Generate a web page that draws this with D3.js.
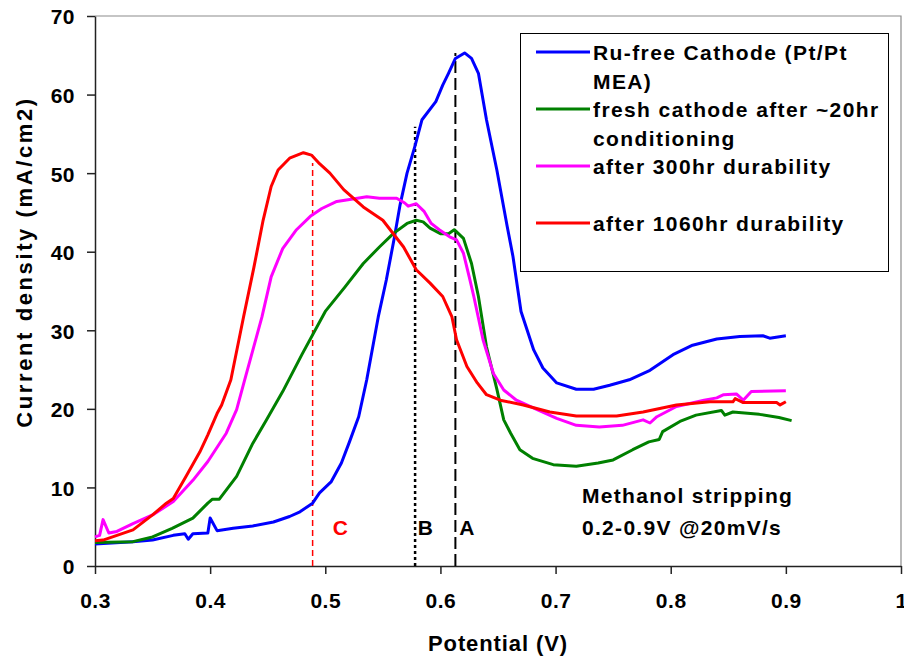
<!DOCTYPE html>
<html>
<head>
<meta charset="utf-8">
<script src="https://cdn.jsdelivr.net/npm/d3@7"></script>
<style>
  html, body { margin: 0; padding: 0; background: #fff; }
  svg { display: block; }
  text { font-family: "Liberation Sans", Arial, sans-serif; font-weight: bold; fill: #000; }
</style>
</head>
<body>
<svg id="chart" width="904" height="656"></svg>
<script>
// Methanol stripping voltammograms: potential (V) vs current density (mA/cm2)
const ruFree = [
  [0.300, 2.8], [0.333, 3.1], [0.350, 3.3], [0.368, 3.9], [0.378, 4.1], [0.381, 3.4],
  [0.385, 4.1], [0.398, 4.2], [0.400, 6.1], [0.406, 4.5], [0.420, 4.8], [0.437, 5.1],
  [0.455, 5.6], [0.469, 6.3], [0.478, 6.9], [0.489, 8.0], [0.495, 9.3], [0.505, 10.7],
  [0.514, 13.1], [0.521, 15.8], [0.529, 19.0], [0.536, 23.7], [0.546, 31.7], [0.553, 36.4],
  [0.560, 41.8], [0.565, 46.0], [0.571, 50.0], [0.578, 53.5], [0.584, 56.8], [0.596, 59.1],
  [0.602, 61.2], [0.607, 62.7], [0.613, 64.6], [0.621, 65.3], [0.627, 64.6], [0.633, 62.7],
  [0.640, 56.8], [0.649, 50.4], [0.658, 43.2], [0.663, 39.4], [0.670, 32.4], [0.681, 27.5],
  [0.689, 25.2], [0.701, 23.3], [0.718, 22.5], [0.733, 22.5], [0.747, 23.0], [0.764, 23.7],
  [0.782, 24.9], [0.802, 26.9], [0.819, 28.1], [0.840, 28.9], [0.860, 29.2], [0.880, 29.3],
  [0.886, 29.0], [0.900, 29.3]
];
const fresh20hr = [
  [0.300, 3.0], [0.333, 3.1], [0.350, 3.7], [0.367, 4.8], [0.385, 6.1], [0.398, 8.0],
  [0.402, 8.5], [0.408, 8.5], [0.423, 11.4], [0.437, 15.6], [0.449, 18.6], [0.463, 22.2],
  [0.480, 27.0], [0.500, 32.4], [0.517, 35.5], [0.533, 38.5], [0.547, 40.6], [0.559, 42.3],
  [0.571, 43.6], [0.579, 44.0], [0.585, 43.8], [0.591, 43.0], [0.600, 42.3], [0.607, 42.3],
  [0.612, 42.8], [0.620, 41.7], [0.627, 38.5], [0.633, 34.3], [0.640, 27.9], [0.649, 22.5],
  [0.655, 18.6], [0.661, 16.9], [0.669, 14.8], [0.680, 13.7], [0.698, 12.9], [0.718, 12.7],
  [0.737, 13.1], [0.750, 13.5], [0.767, 14.8], [0.781, 15.8], [0.790, 16.1], [0.793, 17.1],
  [0.808, 18.4], [0.822, 19.2], [0.844, 19.8], [0.847, 19.2], [0.854, 19.6], [0.877, 19.3],
  [0.894, 18.9], [0.905, 18.5]
];
const after300hr = [
  [0.300, 3.7], [0.304, 3.9], [0.307, 5.9], [0.312, 4.2], [0.319, 4.4], [0.333, 5.4],
  [0.350, 6.5], [0.368, 8.2], [0.385, 10.9], [0.398, 13.3], [0.414, 16.9], [0.423, 19.9],
  [0.430, 23.7], [0.445, 31.7], [0.453, 36.8], [0.463, 40.4], [0.475, 42.8], [0.487, 44.5],
  [0.497, 45.5], [0.510, 46.4], [0.524, 46.7], [0.536, 47.0], [0.547, 46.8], [0.562, 46.8],
  [0.569, 46.2], [0.572, 45.8], [0.579, 46.1], [0.586, 45.1], [0.592, 43.6], [0.599, 42.8],
  [0.608, 41.9], [0.614, 41.5], [0.620, 39.8], [0.625, 36.8], [0.629, 34.3], [0.637, 28.8],
  [0.646, 24.5], [0.655, 22.4], [0.666, 21.1], [0.684, 19.9], [0.701, 18.8], [0.718, 17.9],
  [0.738, 17.7], [0.758, 17.9], [0.776, 18.6], [0.782, 18.2], [0.788, 19.0], [0.805, 20.3],
  [0.829, 21.1], [0.840, 21.4], [0.846, 21.8], [0.857, 21.9], [0.863, 21.1], [0.870, 22.2],
  [0.900, 22.3]
];
const after1060hr = [
  [0.300, 3.2], [0.307, 3.3], [0.333, 4.6], [0.350, 6.5], [0.362, 8.0], [0.368, 8.6],
  [0.379, 11.4], [0.391, 14.5], [0.398, 16.7], [0.406, 19.4], [0.410, 20.5], [0.418, 23.7],
  [0.429, 31.7], [0.438, 38.0], [0.446, 44.0], [0.453, 48.3], [0.459, 50.4], [0.469, 51.9],
  [0.481, 52.6], [0.488, 52.3], [0.495, 51.2], [0.504, 50.0], [0.516, 47.9], [0.533, 45.7],
  [0.550, 44.0], [0.568, 40.6], [0.579, 37.7], [0.591, 36.0], [0.602, 34.3], [0.610, 31.7],
  [0.614, 28.8], [0.623, 25.4], [0.632, 23.3], [0.640, 21.8], [0.652, 21.1], [0.672, 20.5],
  [0.695, 19.6], [0.718, 19.1], [0.753, 19.1], [0.776, 19.6], [0.805, 20.5], [0.834, 20.9],
  [0.854, 20.9], [0.856, 21.3], [0.863, 20.8], [0.892, 20.8], [0.895, 20.5], [0.900, 20.9]
];

const seriesNames = [
  ["Ru-free Cathode (Pt/Pt", "MEA)"],
  ["fresh cathode after ~20hr", "conditioning"],
  ["after 300hr durability"],
  ["after 1060hr durability"]
];
const seriesColors = ["#0000ff", "#008000", "#ff00ff", "#ff0000"];

const xTicks = [0.3, 0.4, 0.5, 0.6, 0.7, 0.8, 0.9, 1.0];
const xTickLabels = ["0.3", "0.4", "0.5", "0.6", "0.7", "0.8", "0.9", "1"];
const yTicks = [0, 10, 20, 30, 40, 50, 60, 70];

// Peak-position markers: [potential, height, label]
const peakMarkers = [
  [0.613, 65.3, "A"],
  [0.578, 55.9, "B"],
  [0.489, 51.3, "C"]
];
const noteLines = ["Methanol stripping", "0.2-0.9V @20mV/s"];

const svg = d3.select("#chart");
svg.append("rect").attr("width", 904).attr("height", 656).attr("fill", "#fff");

const x = d3.scaleLinear().domain([0.3, 1.0]).range([95, 901]);
const y = d3.scaleLinear().domain([0, 70]).range([566, 16]);

// Plot frame (top/right)
svg.append("path")
  .attr("d", `M${x(0.3)},${y(70)}H${x(1.0)}V${y(0)}`)
  .attr("fill", "none").attr("stroke", "#8c8c8c").attr("stroke-width", 1.2);

// Axes
const yAxis = svg.append("g").attr("transform", `translate(${x(0.3)},0)`)
  .call(d3.axisLeft(y).tickValues(yTicks).tickSize(8).tickSizeOuter(0).tickPadding(12).tickFormat(d3.format("d")));
const xAxis = svg.append("g").attr("transform", `translate(0,${y(0)})`)
  .call(d3.axisBottom(x).tickValues(xTicks).tickSize(8).tickSizeOuter(0).tickPadding(19)
    .tickFormat((d, i) => xTickLabels[i]));
[xAxis, yAxis].forEach(g => {
  g.select(".domain").attr("stroke", "#222").attr("stroke-width", 1.5);
  g.selectAll(".tick line").attr("stroke", "#222").attr("stroke-width", 1.5);
  g.selectAll(".tick text")
    .style("font-family", '"Liberation Sans", Arial, sans-serif')
    .style("font-weight", "bold").style("font-size", "21px")
    .style("letter-spacing", "0.5px").attr("fill", "#000");
});
yAxis.selectAll(".tick text").attr("dy", "0.38em");

// Axis titles
svg.append("text")
  .attr("x", (x(0.3) + x(1.0)) / 2).attr("y", 651)
  .attr("text-anchor", "middle")
  .style("font-size", "22px").style("letter-spacing", "0.9px")
  .text("Potential (V)");
svg.append("text")
  .attr("transform", `translate(32,${y(35) - 29}) rotate(-90)`)
  .attr("text-anchor", "middle")
  .style("font-size", "22px").style("letter-spacing", "2.6px")
  .text("Current density (mA/cm2)");

// Peak marker lines
const markerStyles = {
  A: { stroke: "#000", width: 2, dash: "12,5" },
  B: { stroke: "#000", width: 2.5, dash: "3,3" },
  C: { stroke: "#ff0000", width: 1.5, dash: "6,4" }
};
peakMarkers.forEach(([v, h, lab]) => {
  const s = markerStyles[lab];
  svg.append("line")
    .attr("x1", x(v)).attr("x2", x(v))
    .attr("y1", y(0)).attr("y2", y(h))
    .attr("stroke", s.stroke).attr("stroke-width", s.width)
    .attr("stroke-dasharray", s.dash);
});

// Curves
const line = d3.line().x(d => x(d[0])).y(d => y(d[1]));
[ruFree, fresh20hr, after300hr, after1060hr].forEach((data, i) => {
  svg.append("path").datum(data)
    .attr("d", line)
    .attr("fill", "none")
    .attr("stroke", seriesColors[i])
    .attr("stroke-width", 3)
    .attr("stroke-linejoin", "round");
});

// Marker letters
const letterPos = { A: [0.623, 3.9], B: [0.587, 3.9], C: [0.513, 3.9] };
peakMarkers.forEach(([v, h, lab]) => {
  svg.append("text")
    .attr("x", x(letterPos[lab][0])).attr("y", y(letterPos[lab][1]))
    .attr("text-anchor", "middle")
    .attr("fill", lab === "C" ? "#ff0000" : "#000")
    .style("fill", lab === "C" ? "#ff0000" : "#000")
    .style("font-size", "21px")
    .text(lab);
});

// Experiment note
noteLines.forEach((t, i) => {
  svg.append("text")
    .attr("x", 582).attr("y", 503 + i * 32)
    .style("font-size", "21px").style("letter-spacing", "1.3px")
    .text(t);
});

// Legend
const lg = svg.append("g");
lg.append("rect")
  .attr("x", 520.5).attr("y", 33.5).attr("width", 368).attr("height", 238)
  .attr("fill", "#fff").attr("stroke", "#000").attr("stroke-width", 1);
const rowY = [52, 109, 166, 223];
seriesNames.forEach((lines, i) => {
  lg.append("line")
    .attr("x1", 536).attr("x2", 590)
    .attr("y1", rowY[i]).attr("y2", rowY[i])
    .attr("stroke", seriesColors[i]).attr("stroke-width", 3);
  lines.forEach((t, j) => {
    lg.append("text")
      .attr("x", 593).attr("y", rowY[i] + 8 + j * 28.7)
      .style("font-size", "21px").style("letter-spacing", "1.4px")
      .text(t);
  });
});
</script>
</body>
</html>
